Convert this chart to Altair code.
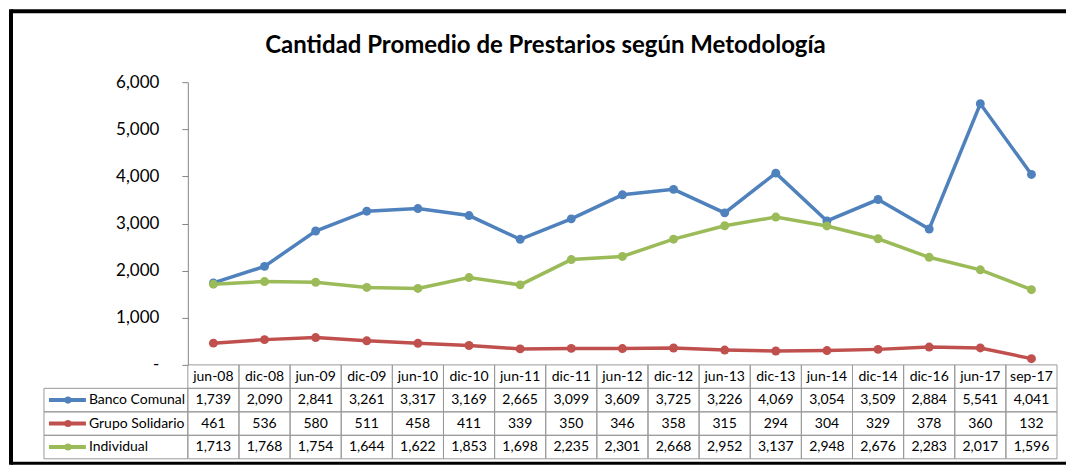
import altair as alt
import pandas as pd

categories = ["jun-08", "dic-08", "jun-09", "dic-09", "jun-10", "dic-10", "jun-11", "dic-11",
              "jun-12", "dic-12", "jun-13", "dic-13", "jun-14", "dic-14", "dic-16", "jun-17", "sep-17"]
banco_comunal = [1739, 2090, 2841, 3261, 3317, 3169, 2665, 3099, 3609, 3725, 3226, 4069, 3054, 3509, 2884, 5541, 4041]
grupo_solidario = [461, 536, 580, 511, 458, 411, 339, 350, 346, 358, 315, 294, 304, 329, 378, 360, 132]
individual = [1713, 1768, 1754, 1644, 1622, 1853, 1698, 2235, 2301, 2668, 2952, 3137, 2948, 2676, 2283, 2017, 1596]
series_names = ["Banco Comunal", "Grupo Solidario", "Individual"]
series_colors = ["#4F81BD", "#C0504D", "#9BBB59"]
title_text = "Cantidad Promedio de Prestarios según Metodología"
y_ticks = [0, 1000, 2000, 3000, 4000, 5000, 6000]

FONT = "Lato"
W, H = 870, 283
ROW_H = 23.5
row_domain = ["hdr"] + series_names
TH = ROW_H * len(row_domain)

rows = []
for name, vals in zip(series_names, [banco_comunal, grupo_solidario, individual]):
    for i, (c, v) in enumerate(zip(categories, vals)):
        rows.append({"cat": c, "series": name, "row": name, "value": v, "order": i})
df = pd.DataFrame(rows)
header_df = pd.DataFrame({"cat": categories, "row": ["hdr"] * len(categories)})
cells_df = pd.DataFrame([{"cat": c, "row": r} for r in row_domain for c in categories])
legend_df = pd.DataFrame({"series": series_names, "row": series_names})
one = pd.DataFrame({"t": [title_text]})

color_scale = alt.Scale(domain=series_names, range=series_colors)

# ---------- top: line chart ----------
x_top = alt.X("cat:N", sort=categories,
              scale=alt.Scale(domain=categories, type="point", padding=0.5), axis=None)
y_top = alt.Y("value:Q", scale=alt.Scale(domain=[0, 6000], nice=False),
              axis=alt.Axis(values=y_ticks, grid=False, title=None,
                            labelExpr="datum.value == 0 ? '-\u00a0\u00a0' : format(datum.value, ',')",
                            domainColor="#868686", tickColor="#868686", tickSize=6,
                            labelPadding=23, labelFont=FONT, labelFontSize=17, labelColor="#000000"))

lines = alt.Chart(df).mark_line(
    strokeWidth=3.5, point=alt.OverlayMarkDef(filled=True, size=80, opacity=1)
).encode(
    x=x_top, y=y_top,
    color=alt.Color("series:N", scale=color_scale, legend=None),
    order=alt.Order("order:Q"),
)

title = alt.Chart(one).mark_text(font=FONT, fontSize=24, fontWeight="bold", color="#000000").encode(
    text="t:N", x=alt.value(358), y=alt.value(-36)
)

top = alt.layer(lines, title).properties(width=W, height=H)

# ---------- bottom: data table ----------
x_tab = alt.X("cat:N", sort=categories,
              scale=alt.Scale(domain=categories, type="band", paddingInner=0, paddingOuter=0), axis=None)
y_tab = alt.Y("row:N", sort=row_domain,
              scale=alt.Scale(domain=row_domain, type="band", paddingInner=0, paddingOuter=0), axis=None)

cells = alt.Chart(cells_df).mark_rect(fill="white", fillOpacity=0, stroke="#9a9a9a", strokeWidth=1).encode(
    x=x_tab, y=y_tab)
values_txt = alt.Chart(df).mark_text(font=FONT, fontSize=14, color="#000000").encode(
    x=x_tab, y=y_tab, text=alt.Text("value:Q", format=","))
header_txt = alt.Chart(header_df).mark_text(font=FONT, fontSize=14, color="#000000").encode(
    x=x_tab, y=y_tab, text="cat:N")

leg_cells = alt.Chart(legend_df).mark_rect(fill="white", fillOpacity=0, stroke="#9a9a9a", strokeWidth=1).encode(
    x=alt.value(-144), x2=alt.value(0), y=y_tab)
leg_line = alt.Chart(legend_df).mark_rule(strokeWidth=4).encode(
    x=alt.value(-139), x2=alt.value(-102), y=y_tab,
    color=alt.Color("series:N", scale=color_scale, legend=None))
leg_dot = alt.Chart(legend_df).mark_circle(size=50, opacity=1).encode(
    x=alt.value(-120), y=y_tab,
    color=alt.Color("series:N", scale=color_scale, legend=None))
leg_txt = alt.Chart(legend_df).mark_text(font=FONT, fontSize=14, align="left", color="#000000").encode(
    x=alt.value(-99), y=y_tab, text="series:N")

# outer frame (decorative)
frame_top = alt.Chart(one).mark_rule(color="black", strokeWidth=4).encode(
    x=alt.value(-177), x2=alt.value(879), y=alt.value(-354))
frame_left = alt.Chart(one).mark_rule(color="black", strokeWidth=4, strokeCap="square").encode(
    x=alt.value(-177), y=alt.value(-354), y2=alt.value(98))
frame_bottom = alt.Chart(one).mark_rule(color="black", strokeWidth=3).encode(
    x=alt.value(-177), x2=alt.value(879), y=alt.value(98.5))

table = alt.layer(cells, values_txt, header_txt, leg_cells, leg_line, leg_dot, leg_txt,
                  frame_top, frame_left, frame_bottom).properties(width=W, height=TH)

chart = alt.vconcat(top, table, spacing=0, bounds="flush").properties(
    padding=0, background="white"
).configure_view(stroke=None)

chart.save("out.html", embed_options={"renderer": "svg", "actions": False})
